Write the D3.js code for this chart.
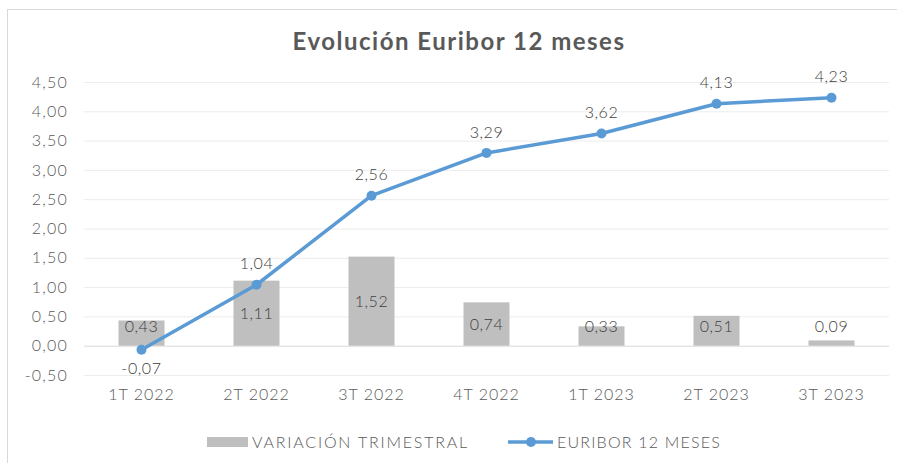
<!DOCTYPE html>
<html>
<head>
<meta charset="utf-8">
<script src="https://cdn.jsdelivr.net/npm/d3@7"></script>
<style>
  body { margin: 0; background: #fff; }
  text { font-family: Lato, "Noto Sans", sans-serif; }
</style>
</head>
<body>
<div id="chart"></div>
<script>
const categories = ["1T 2022", "2T 2022", "3T 2022", "4T 2022", "1T 2023", "2T 2023", "3T 2023"];
const variacion = [0.43, 1.11, 1.52, 0.74, 0.33, 0.51, 0.09];
const euribor = [-0.07, 1.04, 2.56, 3.29, 3.62, 4.13, 4.23];
const yTicks = [-0.5, 0, 0.5, 1, 1.5, 2, 2.5, 3, 3.5, 4, 4.5];

const W = 897, H = 463;
const margin = { top: 82, right: 8, bottom: 88, left: 84 };
const width = W - margin.left - margin.right;
const height = H - margin.top - margin.bottom;
const fmt = v => d3.format(".2f")(v).replace(".", ",").replace("−", "-");

const svg = d3.select("#chart").append("svg")
    .attr("width", W)
    .attr("height", H);

// chart frame
svg.append("rect")
    .attr("x", 7.5).attr("y", 9.5)
    .attr("width", W + 10).attr("height", H + 10)
    .attr("fill", "none")
    .attr("stroke", "#d9d9d9");

svg.append("text")
    .attr("x", 459).attr("y", 50)
    .attr("text-anchor", "middle")
    .style("font-size", "24px")
    .style("font-weight", "bold")
    .style("letter-spacing", "1.5px")
    .attr("fill", "#595959")
    .text("Evolución Euribor 12 meses");

const g = svg.append("g")
    .attr("transform", `translate(${margin.left},${margin.top})`);

const x = d3.scaleBand().domain(categories).range([0, width]);
const y = d3.scaleLinear().domain([-0.5, 4.5]).range([height, 0]);

// grid
g.append("g")
    .call(d3.axisLeft(y).tickValues(yTicks).tickSize(-width).tickFormat(fmt).tickPadding(16))
    .call(a => a.select(".domain").remove())
    .call(a => a.selectAll(".tick line").attr("stroke", d => d === 0 ? "#d9d9d9" : "#ececec"))
    .call(a => a.selectAll(".tick text")
        .attr("fill", "#595959")
        .style("font-size", "16px")
        .style("font-weight", "300")
        .style("letter-spacing", "1.2px"));

// x labels
g.append("g")
    .attr("transform", `translate(0,${height})`)
    .call(d3.axisBottom(x).tickSize(0).tickPadding(14))
    .call(a => a.select(".domain").remove())
    .call(a => a.selectAll(".tick text")
        .attr("fill", "#595959")
        .style("font-size", "16px")
        .style("font-weight", "300")
        .style("letter-spacing", "1px"));

const barW = x.bandwidth() * 0.4;

g.selectAll(".bar")
    .data(variacion)
    .enter().append("rect")
    .attr("class", "bar")
    .attr("x", (d, i) => x(categories[i]) + (x.bandwidth() - barW) / 2)
    .attr("width", barW)
    .attr("y", d => y(d))
    .attr("height", d => y(0) - y(d))
    .attr("fill", "#bfbfbf");

g.selectAll(".bar-label")
    .data(variacion)
    .enter().append("text")
    .attr("class", "bar-label")
    .attr("x", (d, i) => x(categories[i]) + x.bandwidth() / 2)
    .attr("y", d => Math.min((y(d) + y(0)) / 2, y(0) - 19))
    .attr("dy", "0.35em")
    .attr("text-anchor", "middle")
    .attr("fill", "#404040")
    .style("font-size", "16px")
    .style("font-weight", "300")
    .style("letter-spacing", "0.6px")
    .text(fmt);

const line = d3.line()
    .x((d, i) => x(categories[i]) + x.bandwidth() / 2)
    .y(d => y(d));

g.append("path")
    .datum(euribor)
    .attr("d", line)
    .attr("fill", "none")
    .attr("stroke", "#5b9bd5")
    .attr("stroke-width", 3.5)
    .attr("stroke-linejoin", "round");

g.selectAll(".dot")
    .data(euribor)
    .enter().append("circle")
    .attr("cx", (d, i) => x(categories[i]) + x.bandwidth() / 2)
    .attr("cy", d => y(d))
    .attr("r", 5)
    .attr("fill", "#5b9bd5");

g.selectAll(".line-label")
    .data(euribor)
    .enter().append("text")
    .attr("class", "line-label")
    .attr("x", (d, i) => x(categories[i]) + x.bandwidth() / 2)
    .attr("y", d => d < 0 ? y(d) + 19 : y(d) - 21)
    .attr("dy", "0.35em")
    .attr("text-anchor", "middle")
    .attr("fill", "#404040")
    .style("font-size", "16px")
    .style("font-weight", "300")
    .style("letter-spacing", "0.6px")
    .text(fmt);

// legend
const lg = svg.append("g").attr("transform", "translate(0,442)");
lg.append("rect")
    .attr("x", 207).attr("y", -5)
    .attr("width", 41).attr("height", 10)
    .attr("fill", "#bfbfbf");
lg.append("text")
    .attr("x", 252).attr("y", 0).attr("dy", "0.35em")
    .attr("fill", "#595959")
    .style("font-size", "16px")
    .style("font-weight", "300")
    .style("letter-spacing", "1.8px")
    .text("VARIACIÓN TRIMESTRAL");
lg.append("line")
    .attr("x1", 508).attr("x2", 553)
    .attr("stroke", "#5b9bd5")
    .attr("stroke-width", 3.5);
lg.append("circle")
    .attr("cx", 531).attr("r", 5)
    .attr("fill", "#5b9bd5");
lg.append("text")
    .attr("x", 557).attr("y", 0).attr("dy", "0.35em")
    .attr("fill", "#595959")
    .style("font-size", "16px")
    .style("font-weight", "300")
    .style("letter-spacing", "1.2px")
    .text("EURIBOR 12 MESES");
</script>
</body>
</html>
